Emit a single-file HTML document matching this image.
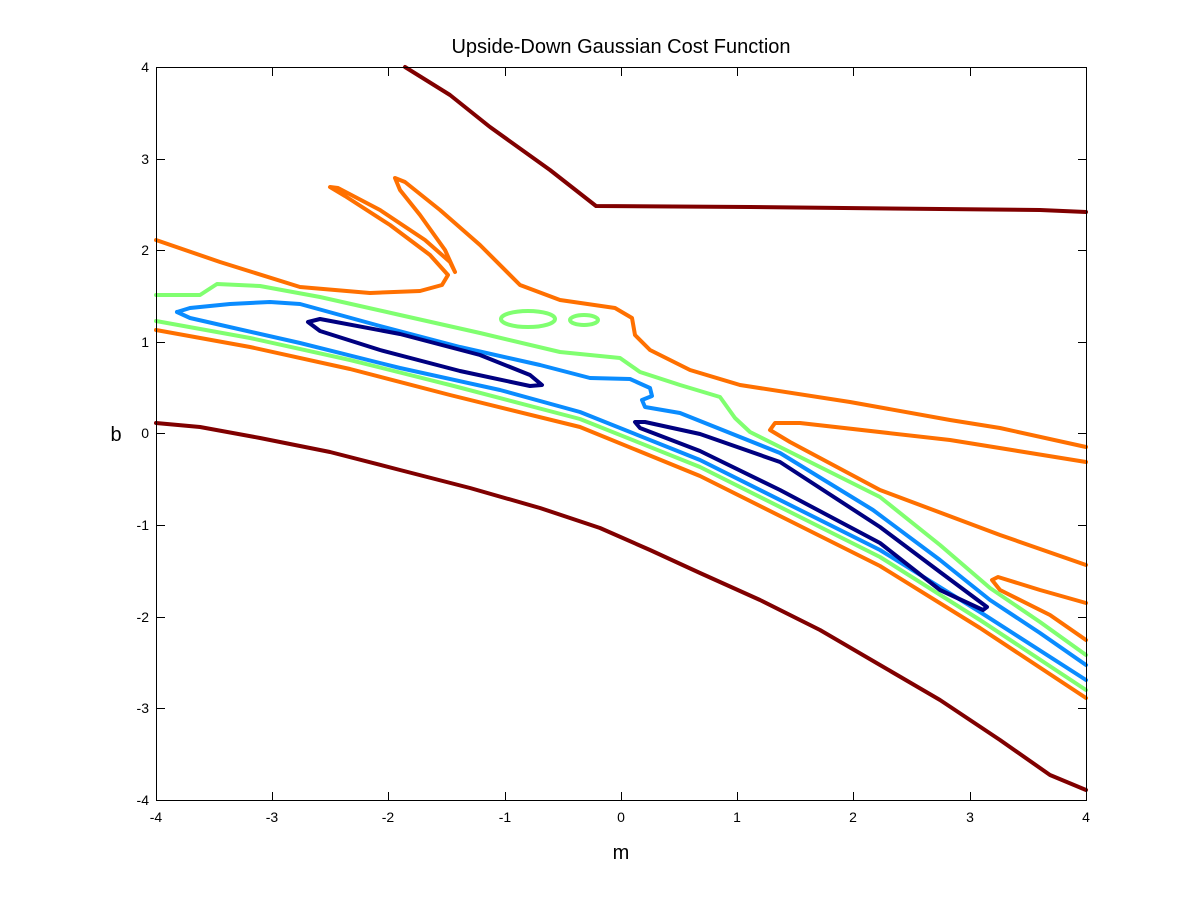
<!DOCTYPE html>
<html><head><meta charset="utf-8"><style>
body{margin:0;background:#fff;}
svg{display:block;font-family:"Liberation Sans",sans-serif;}
</style></head><body>
<svg width="1200" height="900" viewBox="0 0 1200 900" xmlns="http://www.w3.org/2000/svg">
<rect width="1200" height="900" fill="#fff"/>
<g fill="none" stroke-width="4" stroke-linejoin="round" stroke-linecap="round">
<polyline stroke="#800000" points="405,67 450,95 490,127 550,170 596,206 750,207 1040,210 1086,212"/>
<polyline stroke="#800000" points="156,423 200,427 260,438 330,452 400,470 470,488 540,508 600,528 650,550 700,573 760,600 820,630 880,665 940,700 1000,740 1050,775 1086,790"/>
<polyline stroke="#ff7000" points="156,240 220,262 300,287 370,293 420,291 442,285 448,275 430,255 390,225 345,196 330,187 338,188 380,210 425,240 450,262 455,272 445,250 420,215 400,190 395,178 405,182 440,210 480,245 520,285 560,300 615,308 632,318 635,335 650,350 690,370 740,385 850,402 950,420 1000,428 1086,447"/>
<polyline stroke="#ff7000" points="1086,462 950,440 800,423 775,423 770,430 790,442 880,490 1000,535 1086,565"/>
<polyline stroke="#ff7000" points="1086,603 1040,590 998,577 992,580 1000,590 1050,615 1086,640"/>
<polyline stroke="#ff7000" points="156,330 250,347 350,369 450,395 580,427 700,476 800,526 880,566 980,628 1086,698"/>
<polyline stroke="#80ff70" points="156,321 250,338 350,360 450,385 580,419 700,467 800,517 880,557 980,620 1086,690"/>
<polyline stroke="#80ff70" points="156,295 200,295 217,284 260,286 320,297 400,315 480,333 560,352 620,358 640,372 680,385 720,397 735,418 750,432 780,447 880,497 940,545 990,588 1040,622 1086,655"/>
<ellipse stroke="#80ff70" cx="528" cy="319" rx="27" ry="8"/>
<ellipse stroke="#80ff70" cx="584" cy="320" rx="14" ry="5"/>
<polyline stroke="#0a8cff" points="177,312 190,308 230,304 270,302 300,304 380,326 460,347 540,365 590,378 630,379 650,388 652,396 642,400 645,407 680,413 780,453 873,510 940,560 990,600 1040,633 1086,665"/>
<polyline stroke="#0a8cff" points="177,312 190,318 300,343 400,368 500,390 580,412 700,460 800,510 880,550 980,612 1086,680"/>
<polygon stroke="#000080" points="308,322 320,319 400,334 480,355 530,375 542,385 530,386 460,371 380,350 320,331"/>
<polygon stroke="#000080" points="635,422 645,422 700,434 780,462 880,527 940,572 987,607 983,610 940,590 880,543 780,490 700,451 640,428"/>
</g>
<rect x="156.5" y="67.5" width="930" height="733" fill="none" stroke="#000" stroke-width="1"/>
<g stroke="#000" stroke-width="1">
<path d="M156.5,800v-8M272.5,800v-8M388.5,800v-8M505.5,800v-8M621.5,800v-8M737.5,800v-8M853.5,800v-8M970.5,800v-8M1086.5,800v-8"/>
<path d="M156.5,68v8M272.5,68v8M388.5,68v8M505.5,68v8M621.5,68v8M737.5,68v8M853.5,68v8M970.5,68v8M1086.5,68v8"/>
<path d="M157,67.5h8M157,159.5h8M157,250.5h8M157,342.5h8M157,433.5h8M157,525.5h8M157,617.5h8M157,708.5h8M157,800.5h8"/>
<path d="M1086,67.5h-8M1086,159.5h-8M1086,250.5h-8M1086,342.5h-8M1086,433.5h-8M1086,525.5h-8M1086,617.5h-8M1086,708.5h-8M1086,800.5h-8"/>
</g>
<g font-size="14" fill="#000" text-anchor="middle">
<text x="156" y="822">-4</text><text x="272" y="822">-3</text><text x="388" y="822">-2</text><text x="505" y="822">-1</text><text x="621" y="822">0</text><text x="737" y="822">1</text><text x="853" y="822">2</text><text x="970" y="822">3</text><text x="1086" y="822">4</text>
</g>
<g font-size="14" fill="#000" text-anchor="end">
<text x="149" y="72">4</text><text x="149" y="164">3</text><text x="149" y="255">2</text><text x="149" y="347">1</text><text x="149" y="438">0</text><text x="149" y="530">-1</text><text x="149" y="622">-2</text><text x="149" y="713">-3</text><text x="149" y="805">-4</text>
</g>
<text x="621" y="53" font-size="20" text-anchor="middle">Upside-Down Gaussian Cost Function</text>
<text x="621" y="859" font-size="20" text-anchor="middle">m</text>
<text x="116" y="441" font-size="20" text-anchor="middle">b</text>
</svg>
</body></html>
